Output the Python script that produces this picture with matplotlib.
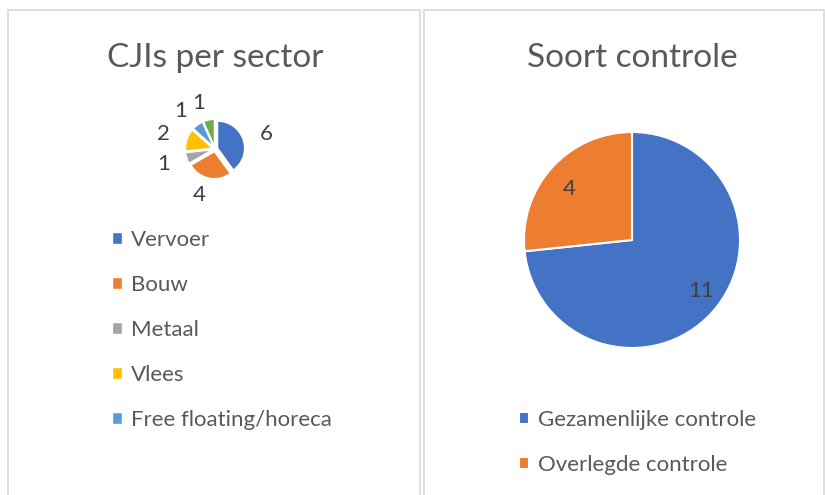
import matplotlib
matplotlib.use("Agg")
import matplotlib.pyplot as plt
from matplotlib.patches import Rectangle

plt.rcParams['font.family'] = ['Lato', 'DejaVu Sans']

# data
sectors = ['Vervoer', 'Bouw', 'Metaal', 'Vlees', 'Free floating/horeca', 'Overig']
sector_counts = [6, 4, 1, 2, 1, 1]
sector_colors = ['#4472C4', '#ED7D31', '#A5A5A5', '#FFC000', '#5B9BD5', '#70AD47']

controle_types = ['Gezamenlijke controle', 'Overlegde controle']
controle_counts = [11, 4]
controle_colors = ['#4472C4', '#ED7D31']

TXT = '#595959'
W, H = 825, 495

fig = plt.figure(figsize=(W / 100, H / 100), dpi=100)


def px_axes(cx, cy, size):
    # axes centred on pixel (cx, cy) with a square side of size px
    return fig.add_axes([(cx - size / 2) / W, 1 - (cy + size / 2) / H, size / W, size / H])


# panel borders
for x0, x1 in [(8, 420), (424, 824)]:
    fig.patches.append(Rectangle((x0 / W, -0.05), (x1 - x0) / W, 1.05 - 10 / H,
                                 transform=fig.transFigure, fill=False,
                                 edgecolor='#D9D9D9', lw=1.2))

# left: CJIs per sector
ax1 = px_axes(215, 149, 140)
wedges1, texts1 = ax1.pie(sector_counts, colors=sector_colors, startangle=90, counterclock=False,
                          explode=[0.1] * len(sector_counts), labels=[str(v) for v in sector_counts],
                          labeldistance=1.65, wedgeprops=dict(edgecolor='white', linewidth=1),
                          textprops=dict(color='#404040', fontsize=16))
lim = 70 / 27
ax1.set_xlim(-lim, lim)
ax1.set_ylim(-lim, lim)
ax1.set_aspect('equal')
ax1.axis('off')
fig.text(215 / W, 1 - 67 / H, 'CJIs per sector', ha='center', va='baseline', fontsize=24, color=TXT)

fig.legend(wedges1[:5], sectors[:5], loc='upper left', bbox_to_anchor=(112 / W, 1 - 230 / H),
           frameon=False, fontsize=16, labelcolor=TXT, handlelength=0.45, handleheight=0.45,
           handletextpad=0.4, labelspacing=1.12, borderpad=0, borderaxespad=0)

# right: Soort controle
ax2 = px_axes(632, 240, 240)
wedges2, texts2 = ax2.pie(controle_counts, colors=controle_colors, startangle=90, counterclock=False,
                          labels=[str(v) for v in controle_counts], labeldistance=0.7,
                          wedgeprops=dict(edgecolor='white', linewidth=1.5),
                          textprops=dict(color='#404040', fontsize=16))
lim = 120 / 108
ax2.set_xlim(-lim, lim)
ax2.set_ylim(-lim, lim)
ax2.set_aspect('equal')
ax2.axis('off')
fig.text(632 / W, 1 - 67 / H, 'Soort controle', ha='center', va='baseline', fontsize=24, color=TXT)

fig.legend(wedges2, controle_types, loc='upper left', bbox_to_anchor=(519 / W, 1 - 410 / H),
           frameon=False, fontsize=16, labelcolor=TXT, handlelength=0.45, handleheight=0.45,
           handletextpad=0.4, labelspacing=1.12, borderpad=0, borderaxespad=0)

fig.savefig('out.png', dpi=100, facecolor='white')
